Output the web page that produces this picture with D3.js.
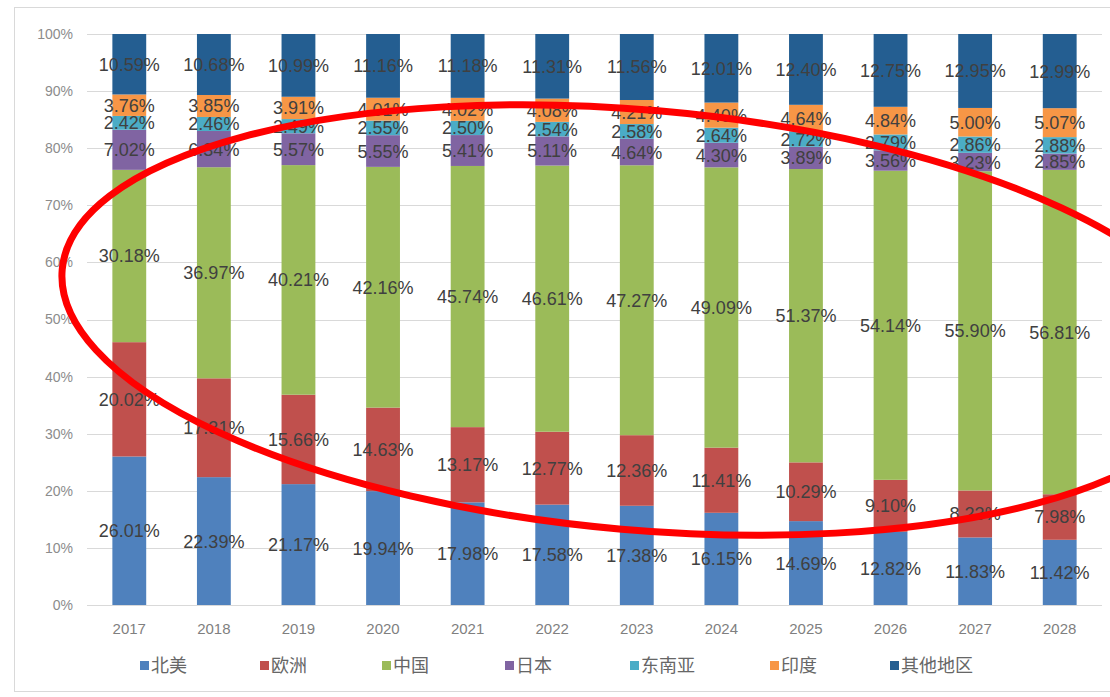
<!DOCTYPE html>
<html><head><meta charset="utf-8">
<script src="https://cdn.jsdelivr.net/npm/d3@7"></script>
<style>body{margin:0;background:#fff;}svg{display:block;}</style>
</head><body>
<svg id="c" width="1110" height="697"></svg>
<script>
const years = ["2017","2018","2019","2020","2021","2022","2023","2024","2025","2026","2027","2028"];
const seriesNames = ["北美","欧洲","中国","日本","东南亚","印度","其他地区"];
const colors = ["#4f81bd","#c0504d","#9bbb59","#8064a2","#4bacc6","#f79646","#245e91"];
const northAmerica = [26.01,22.39,21.17,19.94,17.98,17.58,17.38,16.15,14.69,12.82,11.83,11.42];
const europe       = [20.02,17.31,15.66,14.63,13.17,12.77,12.36,11.41,10.29,9.10,8.23,7.98];
const china        = [30.18,36.97,40.21,42.16,45.74,46.61,47.27,49.09,51.37,54.14,55.90,56.81];
const japan        = [7.02,6.34,5.57,5.55,5.41,5.11,4.64,4.30,3.89,3.56,3.23,2.85];
const seAsia       = [2.42,2.46,2.49,2.55,2.50,2.54,2.58,2.64,2.72,2.79,2.86,2.88];
const india        = [3.76,3.85,3.91,4.01,4.02,4.08,4.21,4.40,4.64,4.84,5.00,5.07];
const others       = [10.59,10.68,10.99,11.16,11.18,11.31,11.56,12.01,12.40,12.75,12.95,12.99];
const yTicks = [0,10,20,30,40,50,60,70,80,90,100];

const seriesVals = [northAmerica,europe,china,japan,seAsia,india,others];
const table = years.map((y,i)=>{const o={year:y};seriesNames.forEach((n,k)=>o[n]=seriesVals[k][i]);return o;});

const svg = d3.select("#c");
// outer chart border
svg.append("rect").attr("x",14.5).attr("y",7.5).attr("width",1100).attr("height",684)
  .attr("fill","none").attr("stroke","#d9d9d9");

const x = d3.scaleBand().domain(years).range([87,1102]).paddingInner(0.6).paddingOuter(0.3);
const y = d3.scaleLinear().domain([0,100]).range([605,34]);

// gridlines
svg.append("g").selectAll("line").data(yTicks).join("line")
  .attr("x1",87).attr("x2",1102).attr("y1",d=>Math.round(y(d))+0.5).attr("y2",d=>Math.round(y(d))+0.5)
  .attr("stroke","#d9d9d9").attr("stroke-width",1);

// y labels
svg.append("g").selectAll("text").data(yTicks).join("text")
  .attr("x",73).attr("y",d=>y(d)).attr("dy","0.35em").attr("text-anchor","end")
  .attr("font-family","Liberation Sans, Arial, sans-serif").attr("font-size",14).attr("fill","#8c8c8c")
  .text(d=>d+"%");

// x labels
svg.append("g").selectAll("text").data(years).join("text")
  .attr("x",d=>x(d)+x.bandwidth()/2).attr("y",634).attr("text-anchor","middle")
  .attr("font-family","Liberation Sans, Arial, sans-serif").attr("font-size",15).attr("fill","#7f7f7f")
  .text(d=>d);

const stacked = d3.stack().keys(seriesNames)(table);
const gBars = svg.append("g");
stacked.forEach((s,k)=>{
  gBars.append("g").attr("fill",colors[k]).selectAll("rect").data(s).join("rect")
    .attr("x",d=>x(d.data.year)).attr("width",x.bandwidth())
    .attr("y",d=>y(d[1])).attr("height",d=>y(d[0])-y(d[1]));
});
const gLab = svg.append("g");
stacked.forEach((s,k)=>{
  gLab.append("g").selectAll("text").data(s).join("text")
    .attr("x",d=>x(d.data.year)+x.bandwidth()/2).attr("y",d=>y((d[0]+d[1])/2)).attr("dy","0.36em")
    .attr("text-anchor","middle").attr("font-family","Liberation Sans, Arial, sans-serif")
    .attr("font-size",18).attr("fill","#404040")
    .text(d=>(d[1]-d[0]).toFixed(2)+"%");
});

// legend
const legendX = [140,260,382,505,630,770,890];
const lg = svg.append("g");
seriesNames.forEach((n,k)=>{
  lg.append("rect").attr("x",legendX[k]).attr("y",661).attr("width",9).attr("height",9).attr("fill",colors[k]);
  lg.append("text").attr("x",legendX[k]+11).attr("y",666).attr("dy","0.36em")
    .attr("font-family","Noto Sans CJK SC, sans-serif").attr("font-size",18).attr("fill","#666666").text(n);
});

// hand-drawn red annotation ellipse
svg.append("ellipse").attr("cx",640).attr("cy",320).attr("rx",580).attr("ry",210)
  .attr("transform","rotate(5 640 320)")
  .attr("fill","none").attr("stroke","#ff0000").attr("stroke-width",7);
</script>
</body></html>
